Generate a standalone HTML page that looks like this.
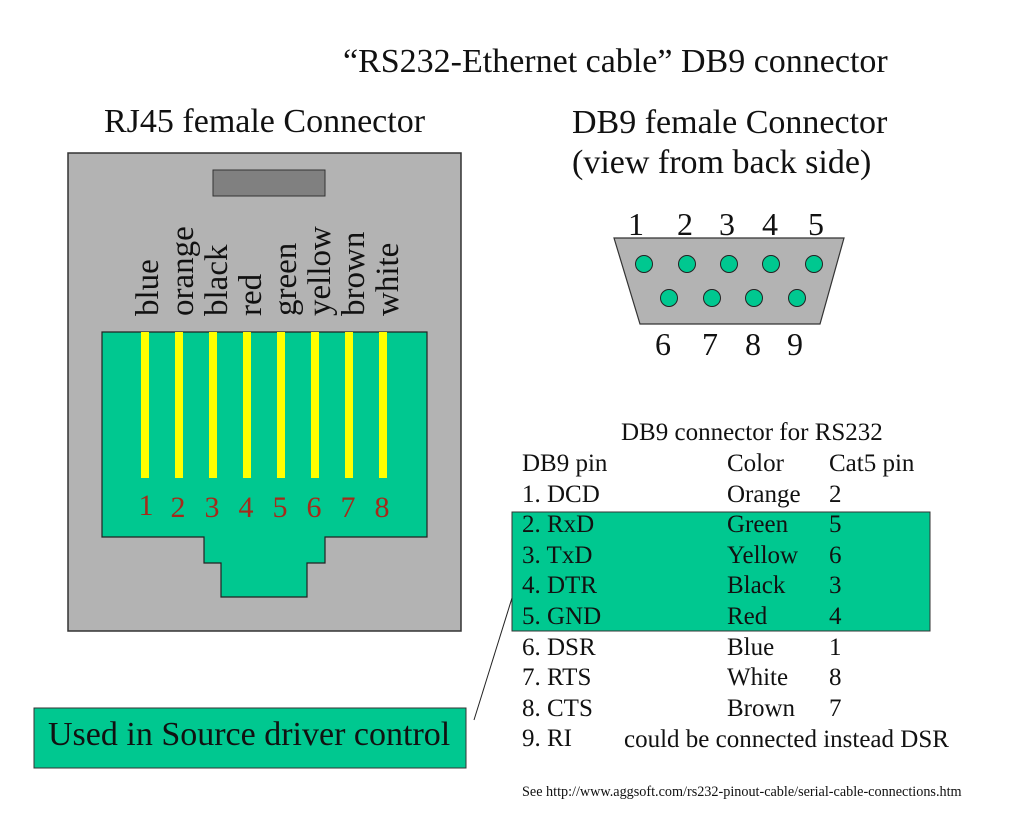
<!DOCTYPE html>
<html><head><style>
body{margin:0;width:1024px;height:819px;background:#fff;position:relative;overflow:hidden;font-family:"Liberation Serif",serif;color:#111}
.t{position:absolute;white-space:nowrap}
</style></head><body>
<div class="t" style="left:343px;top:43px;font-size:34px">“RS232-Ethernet cable” DB9 connector</div>
<div class="t" style="left:104px;top:103px;font-size:34px">RJ45 female Connector</div>
<div class="t" style="left:572px;top:103px;font-size:34px;line-height:40px">DB9 female Connector<br>(view from back side)</div>
<svg width="1024" height="819" style="position:absolute;left:0;top:0">
<rect x="68" y="153" width="393" height="478" fill="#b3b3b3" stroke="#333" stroke-width="1.5"/>
<rect x="213" y="170" width="112" height="26" fill="#808080" stroke="#333"/>
<polygon points="102,332 427,332 427,537 325,537 325,563 307,563 307,597 221,597 221,563 204,563 204,537 102,537" fill="#00c890" stroke="#222" stroke-width="1.2"/>
<g fill="#ffff00">
<rect x="141" y="332" width="8" height="146"/><rect x="175" y="332" width="8" height="146"/><rect x="209" y="332" width="8" height="146"/><rect x="243" y="332" width="8" height="146"/><rect x="277" y="332" width="8" height="146"/><rect x="311" y="332" width="8" height="146"/><rect x="345" y="332" width="8" height="146"/><rect x="379" y="332" width="8" height="146"/>
</g>
<g font-family="Liberation Serif" font-size="30" fill="#a52a1a" text-anchor="middle">
<text x="146" y="515">1</text><text x="178" y="517">2</text><text x="212" y="517">3</text><text x="246" y="517">4</text><text x="280" y="517">5</text><text x="314" y="517">6</text><text x="348" y="517">7</text><text x="382" y="517">8</text>
</g>
<g font-family="Liberation Serif" font-size="33" fill="#111">
<text transform="translate(158,316) rotate(-90)">blue</text>
<text transform="translate(193,316) rotate(-90)">orange</text>
<text transform="translate(227,316) rotate(-90)">black</text>
<text transform="translate(261,316) rotate(-90)">red</text>
<text transform="translate(296,316) rotate(-90)">green</text>
<text transform="translate(330,316) rotate(-90)">yellow</text>
<text transform="translate(364,316) rotate(-90)">brown</text>
<text transform="translate(398,316) rotate(-90)">white</text>
</g>
<polygon points="614,238 844,238 820,324 640,324" fill="#b3b3b3" stroke="#333" stroke-width="1.2"/>
<g fill="#00c890" stroke="#222">
<circle cx="644" cy="264" r="8.5"/><circle cx="687" cy="264" r="8.5"/><circle cx="729" cy="264" r="8.5"/><circle cx="771" cy="264" r="8.5"/><circle cx="814" cy="264" r="8.5"/>
<circle cx="669" cy="298" r="8.5"/><circle cx="712" cy="298" r="8.5"/><circle cx="754" cy="298" r="8.5"/><circle cx="797" cy="298" r="8.5"/>
</g>
<g font-family="Liberation Serif" font-size="32" fill="#111" text-anchor="middle">
<text x="636" y="235">1</text><text x="685" y="235">2</text><text x="727" y="235">3</text><text x="770" y="235">4</text><text x="816" y="235">5</text>
<text x="663" y="355">6</text><text x="710" y="355">7</text><text x="753" y="355">8</text><text x="795" y="355">9</text>
</g>
<rect x="512" y="512" width="418" height="119" fill="#00c890" stroke="#333"/>
<line x1="512" y1="598" x2="474" y2="720" stroke="#222"/>
<rect x="34" y="708" width="432" height="60" fill="#00c890" stroke="#333"/>
</svg>
<div class="t" style="left:48px;top:716px;font-size:34px">Used in Source driver control</div>
<div class="t" style="left:621px;top:419px;font-size:25px">DB9 connector for RS232</div>
<div style="position:absolute;left:522px;top:449px;font-size:25px;line-height:30.6px">
<div class="t" style="left:0;top:0">DB9 pin<br>1. DCD<br>2. RxD<br>3. TxD<br>4. DTR<br>5. GND<br>6. DSR<br>7. RTS<br>8. CTS<br>9. RI</div>
<div class="t" style="left:205px;top:0">Color<br>Orange<br>Green<br>Yellow<br>Black<br>Red<br>Blue<br>White<br>Brown</div>
<div class="t" style="left:307px;top:0">Cat5 pin<br>2<br>5<br>6<br>3<br>4<br>1<br>8<br>7</div>
<div class="t" style="left:102px;top:276px">could be connected instead DSR</div>
</div>
<div class="t" style="left:522px;top:784px;font-size:14.2px">See http://www.aggsoft.com/rs232-pinout-cable/serial-cable-connections.htm</div>
</body></html>
